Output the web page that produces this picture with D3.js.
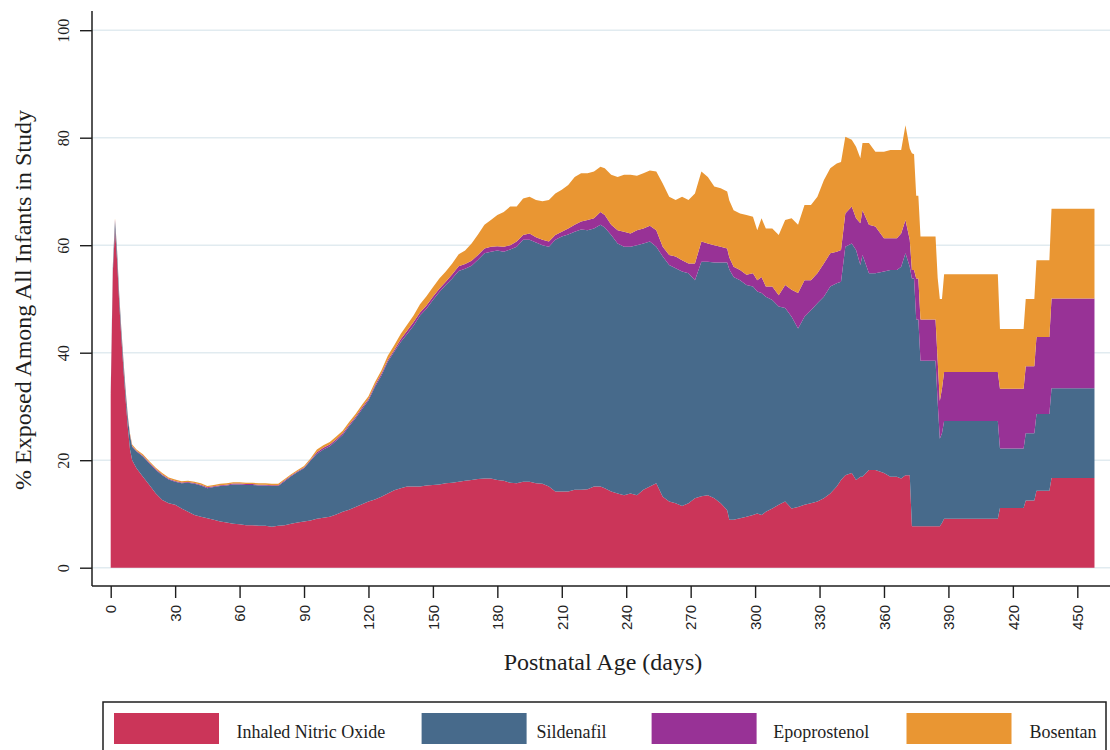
<!DOCTYPE html>
<html><head><meta charset="utf-8">
<script src="https://cdn.jsdelivr.net/npm/d3@7"></script>
<style>body{margin:0;background:#fff} svg{display:block}</style>
</head><body><svg id="chart" width="1110" height="750"></svg>
<script>
const days = [0,1,2,3,4,5,6,7,8,9,10,
12,15,18,21,24,27,30,33,36,39,42,45,48,51,54,57,60,63,66,69,72,75,78,81,84,87,90,93,96,99,102,105,108,111,114,117,120,123,126,129,132,135,138,141,144,147,150,153,156,159,162,165,168,171,174,
177,180,183,186,189,192,195,198,201,204,207,210,213,216,219,222,225,228,
230,
233,236,239,242,245,248,251,254,257,260,263,266,269,272,275,278,281,284,287,
288,290,293,296,299,301,303,305,308,311,314,317,320,323,326,329,332,335,338,340,342,345,347,349,350,353,356,360,363,366,368,370,372,373,374,375,376,377,384,385,386,387,388,413,414,425,426,430,431,437,438,458];

const nitricOxide = [32,55,63,57,49,42.5,36.5,31,26,22,20,
18.5,16.9,15.4,13.8,12.6,12.0,11.7,11.0,10.4,9.8,9.5,9.2,8.9,8.6,8.4,8.2,8.1,7.9,7.9,7.8,7.8,7.6,7.8,7.9,8.2,8.4,8.6,8.8,9.1,9.3,9.5,9.9,10.4,10.8,11.3,11.8,12.3,12.7,13.2,13.8,14.4,14.8,15.1,15.1,15.1,15.3,15.4,15.5,15.7,15.8,16.0,16.2,16.3,16.5,16.6,
16.6,16.3,16.2,15.8,15.7,16.0,16.0,15.7,15.6,15.1,14.2,14.2,14.2,14.5,14.5,14.6,15.1,15.1,
14.8,
14.2,13.8,13.5,13.8,13.5,14.5,15.1,15.7,13.2,12.3,12.0,11.5,12.0,12.9,13.3,13.5,12.9,12.0,10.7,
8.9,8.9,9.2,9.5,9.8,10.1,9.8,10.4,11.0,11.7,12.3,11.0,11.3,11.7,12.0,12.3,12.9,13.8,15.1,16.3,17.2,17.6,16.3,16.9,16.9,18.2,18.2,17.6,16.9,16.9,16.6,17.2,17.2,7.7,7.7,7.7,7.7,7.7,7.7,7.7,7.7,8.3,9.1,9.1,11.1,11.1,12.5,12.5,14.3,14.3,16.7,16.7];

const sildenafil = [0.5,1.0,1.5,1.5,1.3,1.3,1.4,1.5,1.8,2.5,2.5,
3.1,3.8,4.0,4.4,4.6,4.4,4.3,4.7,5.4,5.8,5.8,5.6,6.1,6.6,6.9,7.3,7.4,7.5,7.5,7.5,7.5,7.6,7.4,8.2,8.8,9.4,9.9,11.1,12.1,12.7,13.1,13.7,14.3,15.5,16.5,17.7,18.8,20.9,22.5,24.5,25.8,27.2,28.4,29.9,31.8,32.9,34.4,35.8,36.9,38.0,39.2,39.4,39.9,40.8,41.9,
42.2,42.7,42.6,43.4,44.0,45.0,45.0,44.8,44.4,44.6,46.8,47.4,47.8,48.0,48.4,48.2,48.0,48.7,
48.5,
47.7,46.5,46.2,45.9,46.5,45.8,45.6,44.0,44.7,44.0,43.7,43.6,42.8,40.6,43.6,43.4,43.9,44.8,46.1,
46.6,45.2,44.3,43.1,42.5,41.3,41.3,40.0,38.8,36.9,36.0,35.7,33.2,35.0,35.9,36.9,37.5,38.5,37.8,36.9,42.5,42.7,42.8,39.4,41.3,36.6,36.6,37.5,38.5,38.5,39.4,41.3,38.8,46.1,46.1,38.5,38.5,30.8,30.8,23.1,16.3,16.7,18.2,18.2,11.1,11.1,12.5,12.5,14.3,14.3,16.7,16.7];

const epoprostenol = [0,0.2,0.3,0.2,0.2,0.2,0.2,0.2,0.2,0.2,0.15,
0.15,0.15,0.15,0.15,0.15,0.15,0.15,0.15,0.15,0.15,0.15,0.15,0.15,0.15,0.15,0.15,0.15,0.15,0.15,0.15,0.15,0.15,0.15,0.15,0.15,0.15,0.15,0.15,
0.3,0.3,0.3,0.3,0.3,0.3,0.3,0.3,0.3,
0.35,0.4,0.35,0.3,0.5,0.6,0.7,0.6,0.6,0.6,0.6,0.6,0.8,0.9,0.9,0.9,0.9,0.9,
0.9,0.8,0.9,0.8,1.0,0.9,1.2,1.0,1.0,1.0,0.9,0.9,1.1,1.3,1.5,1.9,1.9,2.4,
2.3,
1.9,2.5,2.8,2.5,2.8,2.8,2.9,3.1,1.8,1.9,2.2,2.1,1.8,3.1,3.8,3.4,3.2,2.9,2.6,
2.2,1.9,1.9,1.9,2.5,2.1,3.0,1.9,2.5,2.1,4.3,5.0,6.6,6.8,5.6,5.6,6.2,6.2,5.9,5.9,6.2,6.9,5.9,7.8,8.3,9.0,8.7,6.2,5.9,5.9,6.2,6.2,5.0,1.6,1.6,7.6,7.6,7.7,7.7,7.7,7.0,8.3,9.1,9.1,11.1,11.1,12.5,12.5,14.3,14.3,16.7,16.7];

const bosentan = [0,0.1,0.2,0.2,0.2,0.2,0.2,0.2,0.2,0.2,0.25,
0.25,0.25,0.25,0.25,0.25,0.25,0.25,0.25,0.25,0.25,0.25,0.25,0.25,0.25,0.25,0.25,0.25,0.25,0.25,0.25,0.25,0.25,0.25,0.25,0.25,0.25,0.25,0.25,
0.5,0.5,0.5,0.5,0.5,0.5,0.5,0.5,0.5,
0.55,0.6,0.8,0.9,1.0,1.1,1.2,1.5,1.7,1.8,1.9,1.9,2.0,2.2,2.5,3.2,3.8,4.4,
5.0,5.8,6.5,7.2,6.5,6.8,6.8,6.9,7.2,7.7,7.7,7.8,8.1,8.9,9.0,8.7,8.7,8.4,
8.7,
9.3,9.9,10.6,10.9,10.1,10.3,10.3,10.9,11.8,10.8,10.5,11.8,11.8,13.0,13.0,12.4,10.9,10.9,10.6,
10.6,10.5,10.5,11.1,10.5,9.3,10.9,10.8,10.8,11.2,12.1,13.3,12.7,14.0,14.0,14.2,15.5,15.8,16.4,16.4,14.3,12.4,13.3,12.1,12.5,15.2,13.9,16.1,16.4,16.4,15.5,17.6,17.0,21.7,21.5,15.4,15.4,15.4,15.4,15.4,19.0,16.7,18.2,18.2,11.1,11.1,12.5,12.5,14.3,14.3,16.7,16.7];

const seriesNames = ["Inhaled Nitric Oxide","Sildenafil","Epoprostenol","Bosentan"];
const seriesColors = ["#cb3559","#476a8b","#983296","#e99633"];
const xTicks = [0,30,60,90,120,150,180,210,240,270,300,330,360,390,420,450];
const yTicks = [0,20,40,60,80,100];
const xTitle = "Postnatal Age (days)";
const yTitle = "% Exposed Among All Infants in Study";

const serif = "'Liberation Serif','Times New Roman',Times,serif";
const sans = "'Liberation Sans',Arial,sans-serif";
const ink = "#1e1e1e";

const n = Math.min(days.length, nitricOxide.length, sildenafil.length, epoprostenol.length, bosentan.length);
const rows = d3.range(n).map(i => ({day: days[i], s0: nitricOxide[i], s1: sildenafil[i], s2: epoprostenol[i], s3: bosentan[i]}));
const keys = ["s0","s1","s2","s3"];
const stacked = d3.stack().keys(keys)(rows);

const svg = d3.select("#chart");
const x = d3.scaleLinear().domain([0,450]).range([110.7,1077.3]);
const y = d3.scaleLinear().domain([0,100]).range([567.7,30.2]);
const axisX = 92, axisY = 586, plotTop = 11, plotRight = 1110;

svg.append("rect").attr("width",1110).attr("height",750).attr("fill","#fff");

// gridlines
svg.append("g").selectAll("line").data(yTicks).join("line")
  .attr("x1",axisX).attr("x2",plotRight)
  .attr("y1",d=>y(d)).attr("y2",d=>y(d))
  .attr("stroke","#e1ebf0").attr("stroke-width",1.6);

// stacked areas
const area = d3.area().x(d=>x(d.data.day)).y0(d=>y(d[0])).y1(d=>y(d[1]));
svg.append("g").selectAll("path").data(stacked).join("path")
  .attr("d",area).attr("fill",(d,i)=>seriesColors[i]);

// y axis
const gy = svg.append("g").attr("transform",`translate(${axisX},0)`)
  .call(d3.axisLeft(y).tickValues(yTicks).tickSize(12).tickPadding(0));
gy.select(".domain").remove();
gy.selectAll(".tick line").attr("stroke",ink).attr("stroke-width",1.4);
gy.selectAll(".tick text").attr("x",null).attr("dy",null)
  .attr("text-anchor","middle").attr("transform","translate(-23,0) rotate(-90)")
  .style("font-family",serif).style("font-size","16px").attr("fill",ink);
svg.append("line").attr("x1",axisX).attr("x2",axisX).attr("y1",plotTop).attr("y2",axisY)
  .attr("stroke",ink).attr("stroke-width",1.5);

// x axis
const gx = svg.append("g").attr("transform",`translate(0,${axisY})`)
  .call(d3.axisBottom(x).tickValues(xTicks).tickSize(12).tickPadding(0));
gx.select(".domain").remove();
gx.selectAll(".tick line").attr("stroke",ink).attr("stroke-width",1.4);
gx.selectAll(".tick text").attr("y",null).attr("dy","0.35em")
  .attr("text-anchor","end").attr("transform","translate(0,19) rotate(-90)")
  .style("font-family",sans).style("font-size","15px").attr("fill",ink);
svg.append("line").attr("x1",axisX).attr("x2",plotRight).attr("y1",axisY).attr("y2",axisY)
  .attr("stroke",ink).attr("stroke-width",1.5);

// titles
svg.append("text").attr("transform","translate(31,300) rotate(-90)")
  .attr("text-anchor","middle").style("font-family",serif).style("font-size","24px")
  .attr("fill",ink).text(yTitle);
svg.append("text").attr("x",603).attr("y",670)
  .attr("text-anchor","middle").style("font-family",serif).style("font-size","24px")
  .attr("fill",ink).text(xTitle);

// legend
svg.append("rect").attr("x",103).attr("y",702).attr("width",1003).attr("height",70)
  .attr("fill","none").attr("stroke",ink).attr("stroke-width",1.5);
const swatchX = [114,421.6,651.6,906.5];
const labelX = [236.4,536.6,773.2,1029.4];
const lg = svg.append("g").selectAll("g").data(seriesNames).join("g");
lg.append("rect").attr("x",(d,i)=>swatchX[i]).attr("y",713).attr("width",105).attr("height",31)
  .attr("fill",(d,i)=>seriesColors[i]);
lg.append("text").attr("x",(d,i)=>labelX[i]).attr("y",738)
  .style("font-family",serif).style("font-size","18px").attr("fill",ink).text(d=>d);
</script>
</body></html>
